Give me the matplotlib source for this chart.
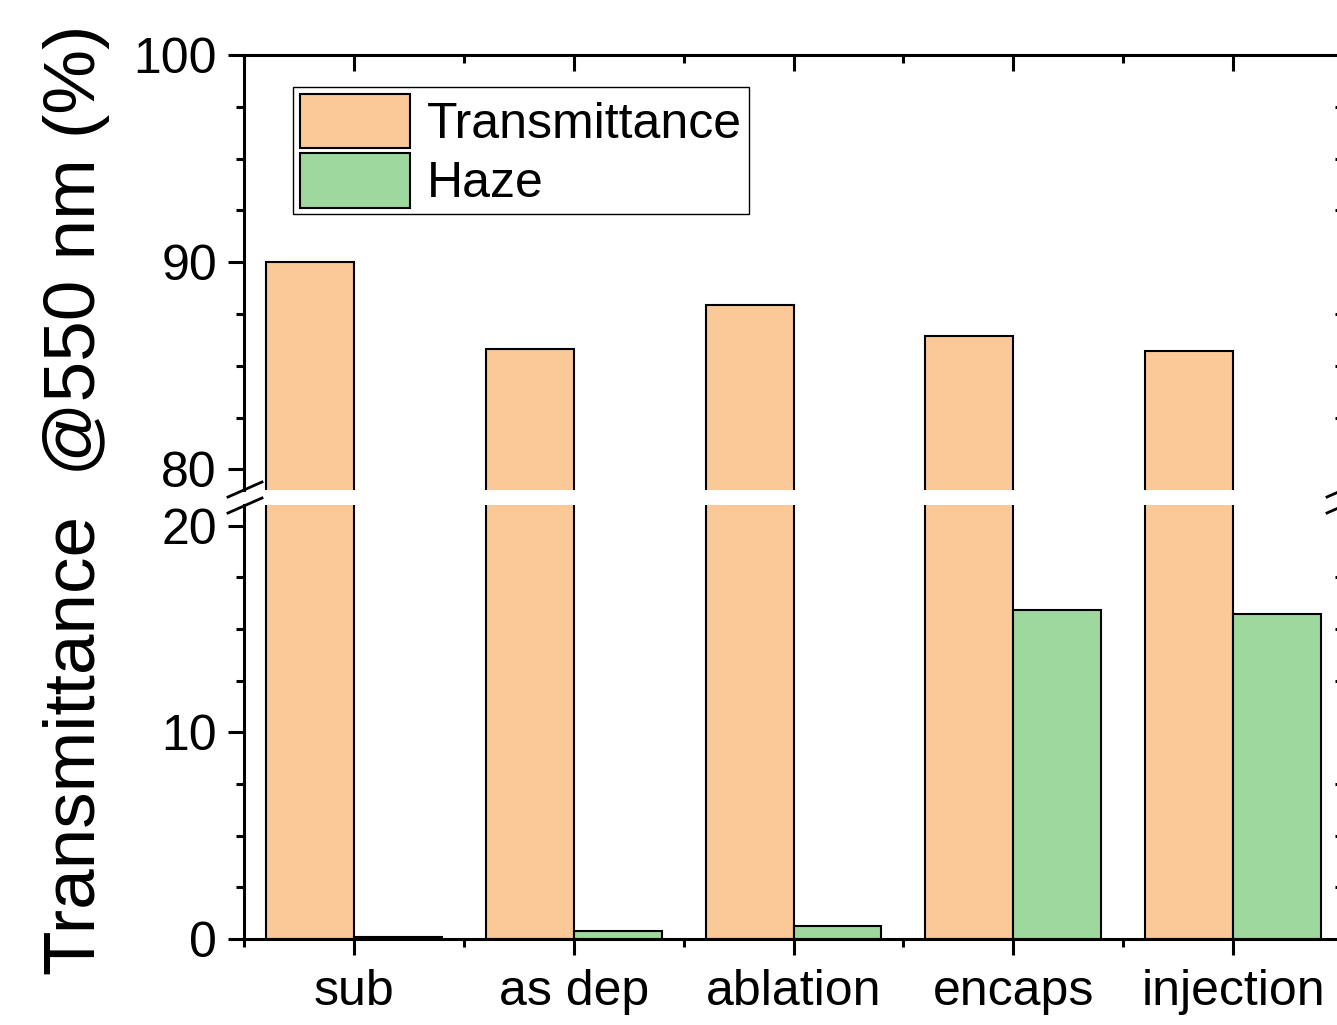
import numpy as np
import matplotlib
matplotlib.use("Agg")
import matplotlib.pyplot as plt
from matplotlib.lines import Line2D
from matplotlib.ticker import MultipleLocator

categories = ["sub", "as dep", "ablation", "encaps", "injection"]
transmittance = [90.0, 85.8, 87.95, 86.45, 85.7]
haze = [0.1, 0.4, 0.63, 15.9, 15.75]

c_trans = "#fbc898"
c_haze = "#9ed89e"

plt.rcParams["font.family"] = ["Liberation Sans", "DejaVu Sans"]

W, H = 1337, 1025
fig = plt.figure(figsize=(W / 100, H / 100), dpi=100)

def fx(px):
    return px / W

def fy(py):
    return 1 - py / H

left = fx(244)
width = fx(1343) - left
ax_top = fig.add_axes([left, fy(490), width, fy(55) - fy(490)])
ax_bot = fig.add_axes([left, fy(939), width, fy(505) - fy(939)])

x = np.arange(len(categories))
bw = 0.4
for ax in (ax_top, ax_bot):
    ax.bar(x - bw / 2, transmittance, bw, color=c_trans, edgecolor="black",
           linewidth=1.5, label="Transmittance")
    ax.bar(x + bw / 2, haze, bw, color=c_haze, edgecolor="black",
           linewidth=1.5, label="Haze")
    ax.set_xlim(-0.5, 4.5)
    for s in ax.spines.values():
        s.set_linewidth(2.2)
    ax.yaxis.set_major_locator(MultipleLocator(10))
    ax.yaxis.set_minor_locator(MultipleLocator(2.5))
    ax.xaxis.set_major_locator(MultipleLocator(1))
    ax.xaxis.set_minor_locator(MultipleLocator(0.5))
    ax.tick_params(axis="both", which="major", length=11.5, width=2.2, labelsize=36)
    ax.tick_params(axis="both", which="minor", length=5.8, width=2.2)
    ax.tick_params(axis="y", which="both", left=True, right=True, direction="out")

ax_top.set_ylim(79, 100)
ax_bot.set_ylim(0, 21)

ax_top.spines["bottom"].set_visible(False)
ax_bot.spines["top"].set_visible(False)

# top part: ticks on top inward, none at bottom
ax_top.tick_params(axis="x", which="both", bottom=False, top=True,
                   labelbottom=False, direction="in")
ax_bot.tick_params(axis="x", which="both", bottom=True, top=False,
                   direction="out", pad=10)
ax_bot.set_xticks(x)
ax_bot.set_xticklabels(categories)

ax_top.set_yticks([80, 90, 100])
ax_bot.set_yticks([0, 10, 20])
# right-side ticks point inward
for ax in (ax_top, ax_bot):
    for t in ax.yaxis.get_major_ticks() + ax.yaxis.get_minor_ticks():
        t.tick2line.set_marker(matplotlib.markers.TICKLEFT)
    ax.tick_params(axis="y", pad=8)

# break marks
for xc in (244, 1343):
    for yc in (490, 506):
        fig.add_artist(Line2D([fx(xc - 16), fx(xc + 18)], [fy(yc + 7), fy(yc - 8)],
                              color="black", linewidth=2.0, clip_on=False))

fig.text(fx(77), fy(500), "Transmittance  @550 nm (%)", rotation=90,
         ha="center", va="center", fontsize=52.5)

leg = ax_top.legend(loc="upper left", bbox_to_anchor=(fx(293), fy(87)),
                    bbox_transform=fig.transFigure, borderaxespad=0,
                    fontsize=36, frameon=True, fancybox=False, framealpha=1,
                    handlelength=2.2, handleheight=1.3, handletextpad=0.35,
                    borderpad=0.13, labelspacing=0.1)
leg.get_frame().set_edgecolor("black")
leg.get_frame().set_linewidth(1.0)

fig.savefig("out.png", dpi=100)
